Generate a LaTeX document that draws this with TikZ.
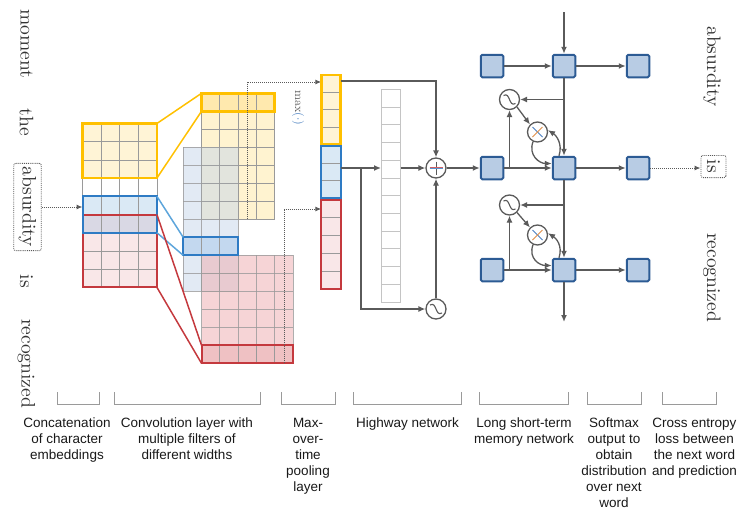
\documentclass[tikz,border=0pt]{standalone}
\usepackage{fontspec}
\newfontfamily\labelfont{Liberation Sans}
\newfontfamily\wordfont{lmroman10-regular.otf}
\usetikzlibrary{arrows.meta}
\definecolor{gold}{HTML}{FFC000}
\definecolor{yfill}{HTML}{FFF4D6}
\definecolor{ymapf}{HTML}{FFF3D0}
\definecolor{yhl}{HTML}{FFE6A0}
\definecolor{bdark}{HTML}{2E7BC4}
\definecolor{bline}{HTML}{5DA5DB}
\definecolor{bfill}{HTML}{DAE9F5}
\definecolor{bmapf}{HTML}{C6D6EA}
\definecolor{bhl}{HTML}{BBD4EE}
\definecolor{rdark}{HTML}{C4393E}
\definecolor{rfill}{HTML}{F9E7E8}
\definecolor{rmapf}{HTML}{EDAAAD}
\definecolor{rhl}{HTML}{EBB5B7}
\definecolor{ovl}{HTML}{D9D8E4}
\definecolor{gridg}{HTML}{9A9A9A}
\definecolor{agrey}{HTML}{5A5A5A}
\definecolor{lstmf}{HTML}{B8CCE4}
\definecolor{lstmb}{HTML}{2C5B94}
\definecolor{hwg}{HTML}{C4C4C4}
\definecolor{wordc}{HTML}{333333}
\definecolor{maxg}{HTML}{5E5E5E}
\definecolor{maxb}{HTML}{4A80C0}
\definecolor{crossb}{HTML}{4A7FC1}
\definecolor{crosso}{HTML}{E0904A}
\begin{document}
\begin{tikzpicture}[x=1pt,y=-1pt,
  arr/.style={draw=agrey, line width=1.3pt, -{Latex[length=7pt,width=6pt]}},
  ln/.style={draw=agrey, line width=1.3pt},
  dotarr/.style={draw=agrey, densely dotted, line width=1pt, -{Latex[length=6pt,width=5pt]}},
  gridl/.style={draw=gridg, line width=0.8pt},
  lstm/.style={draw=lstmb, fill=lstmf, line width=2pt, minimum size=22.5pt, inner sep=0pt, rounded corners=1.5pt},
  opc/.style={circle, draw=agrey, line width=1.3pt, fill=white, minimum size=20pt, inner sep=0pt},
  word/.style={rotate=-90, font=\wordfont\fontsize{19.5}{24}\selectfont, text=wordc, inner sep=0pt},
  wbox/.style={draw=agrey, densely dotted, line width=0.9pt, rounded corners=2pt},
  lab/.style={font=\labelfont\fontsize{13.5}{16}\selectfont, align=center, anchor=north, inner sep=0pt, text=black!90},
  brk/.style={draw=gridg, line width=0.9pt},
  sig/.style={draw=agrey, line width=1.1pt},
]
\useasboundingbox (0,0) rectangle (740,512);

% ---------------- words (left) ----------------
\node[word] (wmoment) at (26.5,43.5) {moment};
\node[word] (wthe) at (26.5,122.5) {the};
\node[word, wbox, inner xsep=3.5pt, inner ysep=5pt] (wabs) at (27.5,207) {absurdity};
\node[word] (wis) at (26.5,281.5) {is};
\node[word] (wrec) at (26.5,363.5) {recognized};

% ---------------- embedding matrix ----------------
\coordinate (embL) at (82.5,0);
\fill[yfill] (82.5,123.5) rectangle (156.9,178.1);
\fill[bfill] (82.5,196.3) rectangle (156.9,214.5);
\fill[ovl] (82.5,214.5) rectangle (156.9,232.7);
\fill[rfill] (82.5,232.7) rectangle (156.9,287.3);
\foreach \j in {0,...,4} \draw[gridl] ({82.5+18.6*\j},123.5) -- ({82.5+18.6*\j},287.3);
\foreach \y in {141.7,159.9,232.7,250.9,269.1} \draw[gridl] (82.5,\y) -- (156.9,\y);
\draw[gold, line width=2.6pt] (82.5,123.5) rectangle (156.9,178.1);
\draw[rdark, line width=2pt] (82.5,214.5) rectangle (156.9,287.3);
\draw[bdark, line width=2pt] (82.5,196.3) rectangle (156.9,232.7);

\draw[dotarr] (wabs.north) -- (wabs.north -| embL);

% ---------------- convolution feature maps ----------------
% yellow map
\fill[ymapf] (201.5,93.3) rectangle (274.7,219.3);
\foreach \j in {0,...,4} \draw[gridl] ({201.5+18.3*\j},93.3) -- ({201.5+18.3*\j},219.3);
\foreach \k in {0,...,7} \draw[gridl] (201.5,{93.3+18*\k}) -- (274.7,{93.3+18*\k});
% blue map
\fill[bmapf, fill opacity=0.5] (183.2,147.3) rectangle (238.1,291.3);
\foreach \j in {0,...,3} \draw[gridl, draw opacity=0.8] ({183.2+18.3*\j},147.3) -- ({183.2+18.3*\j},291.3);
\foreach \k in {0,...,8} \draw[gridl, draw opacity=0.8] (183.2,{147.3+18*\k}) -- (238.1,{147.3+18*\k});
% red map
\fill[rmapf, fill opacity=0.5] (201.5,255.3) rectangle (293,363.3);
\foreach \j in {0,...,5} \draw[gridl, draw opacity=0.8] ({201.5+18.3*\j},255.3) -- ({201.5+18.3*\j},363.3);
\foreach \k in {0,...,6} \draw[gridl, draw opacity=0.8] (201.5,{255.3+18*\k}) -- (293,{255.3+18*\k});
% highlighted rows
\fill[yhl, fill opacity=0.7] (201.5,93.3) rectangle (274.7,111.3);
\fill[bhl, fill opacity=0.8] (183.2,237.3) rectangle (238.1,255.3);
\fill[rhl, fill opacity=0.6] (201.5,345.3) rectangle (293,363.3);
\foreach \j in {1,...,3} \draw[gridl] ({201.5+18.3*\j},93.3) -- ({201.5+18.3*\j},111.3);
\foreach \j in {1,2} \draw[gridl] ({183.2+18.3*\j},237.3) -- ({183.2+18.3*\j},255.3);
\foreach \j in {1,...,4} \draw[gridl] ({201.5+18.3*\j},345.3) -- ({201.5+18.3*\j},363.3);
\draw[gold, line width=2.6pt] (201.5,93.3) rectangle (274.7,111.3);
\draw[bdark, line width=2pt] (183.2,237.3) rectangle (238.1,255.3);
\draw[rdark, line width=2pt] (201.5,345.3) rectangle (293,363.3);

% filter connectors
\coordinate (eyt) at (156.9,123.5); \coordinate (eyb) at (156.9,178.1);
\coordinate (ebt) at (156.9,196.3); \coordinate (ebb) at (156.9,232.7);
\coordinate (ert) at (156.9,214.5); \coordinate (erb) at (156.9,287.3);
\coordinate (cyt) at (201.5,93.3);  \coordinate (cyb) at (201.5,111.3);
\coordinate (cbt) at (183.2,237.3); \coordinate (cbb) at (183.2,255.3);
\coordinate (crt) at (201.5,345.3); \coordinate (crb) at (201.5,363.3);
\draw[gold, line width=1.5pt] (eyt) -- (cyt) (eyb) -- (cyb);
\draw[bline, line width=1.5pt] (ebt) -- (cbt) (ebb) -- (cbb);
\draw[rdark, line width=1.5pt] (ert) -- (crt) (erb) -- (crb);

% ---------------- max-over-time pooling ----------------
\coordinate (py0) at (247.5,219.3);
\coordinate (py1) at (321.3,82);
\coordinate (pr0) at (284,363.3);
\coordinate (pr1) at (321.3,209);
\draw[dotarr] (py0) |- (py1);
\draw[dotarr] (pr0) |- (pr1);
\node[rotate=-90, inner sep=0pt, font=\wordfont\fontsize{12}{14}\selectfont] (maxlab) at (298,108) {\textcolor{maxg}{max}\textcolor{maxb}{(${\cdot}$)}};

\fill[yfill] (321.3,75) rectangle (340.7,144.2);
\fill[bfill] (321.3,145.5) rectangle (340.7,198);
\fill[rfill] (321.3,199.8) rectangle (340.7,288.8);
\foreach \k in {1,2,3} \draw[gridl] (321.3,{75+17.3*\k}) -- (340.7,{75+17.3*\k});
\foreach \k in {1,2} \draw[gridl] (321.3,{145.5+17.5*\k}) -- (340.7,{145.5+17.5*\k});
\foreach \k in {1,...,4} \draw[gridl] (321.3,{199.8+17.8*\k}) -- (340.7,{199.8+17.8*\k});
\draw[gold, line width=2.6pt] (321.3,75) rectangle (340.7,144.2);
\draw[bdark, line width=2pt] (321.3,145.5) rectangle (340.7,198);
\draw[rdark, line width=2pt] (321.3,199.8) rectangle (340.7,288.8);

% ---------------- highway network ----------------
\foreach \k in {1,...,11} \draw[draw=hwg, line width=0.8pt] (381,{89.3+17.73*\k}) -- (400,{89.3+17.73*\k});
\node[draw=hwg, line width=1pt, minimum width=19pt, minimum height=212.7pt, inner sep=0pt] (hw) at (390.5,195.65) {};

\node[opc] (plus) at (436,168) {};
\node[opc] (hs) at (436,309) {};
\draw[agrey, line width=0.9pt, shift={(plus.center)}] (0,-6.5) -- (0,6.5);
\draw[rdark!80, line width=0.7pt, shift={(plus.center)}] (-6.5,-0.4) -- (6.5,-0.4);
\draw[bdark!80, line width=0.7pt, shift={(plus.center)}] (-6.5,0.5) -- (6.5,0.5);

\coordinate (mptop) at (340.7,81);
\coordinate (mpout) at (340.7,168);
\coordinate (hwin) at (381,168);
\coordinate (hwout) at (400.5,168);
\coordinate (br) at (361,168);
\draw[arr] (mptop) -| (plus.north);
\draw[arr] (mpout) -- (hwin);
\draw[arr] (br) |- (hs.west);
\draw[arr] (hs.north) -- (plus.south);
\draw[arr] (hwout) -- (plus.west);

% ---------------- LSTM ----------------
\node[lstm] (a1) at (492,66) {};
\node[lstm] (b1) at (564,66) {};
\node[lstm] (c1) at (638,66) {};
\node[lstm] (a2) at (492,168) {};
\node[lstm] (b2) at (564,168) {};
\node[lstm] (c2) at (638,168) {};
\node[lstm] (a3) at (492,270) {};
\node[lstm] (b3) at (564,270) {};
\node[lstm] (c3) at (638,270) {};

\node[opc] (s1) at (509.5,99.5) {};
\node[opc] (x1) at (537.5,132) {};
\node[opc] (s2) at (509.5,205) {};
\node[opc] (x2) at (537.5,235) {};

\foreach \n in {hs,s1,s2}
  \draw[sig, shift={(\n.center)}] (-6,-4) .. controls (1,-8) and (-1,8) .. (6,4);
\foreach \n in {x1,x2} {
  \draw[crossb, line width=0.9pt, shift={(\n.center)}] (-5,-5) -- (5,5);
  \draw[crosso, line width=0.9pt, shift={(\n.center)}] (-5,5) -- (5,-5);
}

\draw[arr] (plus.east) -- (a2.west);
\foreach \r in {1,2,3} {
  \draw[arr] (a\r.east) -- (b\r.west);
  \draw[arr] (b\r.east) -- (c\r.west);
}
\coordinate (top) at (564,12);
\coordinate (bot) at (564,322);
\draw[arr] (top) -- (b1.north);
\draw[arr] (b1.south) -- (b2.north);
\draw[arr] (b2.south) -- (b3.north);
\draw[arr] (b3.south) -- (bot);

\coordinate (t1) at (564,99.5);
\coordinate (t2) at (564,205);
\coordinate (r1) at (509.5,168);
\coordinate (r2) at (509.5,270);
\draw[arr] (t1) -- (s1.east);
\draw[arr] (t2) -- (s2.east);
\draw[arr] (r1) -- (s1.south);
\draw[arr] (r2) -- (s2.south);
\draw[arr] (s1.-45) -- (x1.135);
\draw[arr] (s2.-45) -- (x2.135);
\draw[arr] (x1.245) .. controls +(-5,14) and +(-12,0) .. ([yshift=4.5pt]b2.west);
\draw[arr] (x2.245) .. controls +(-5,14) and +(-12,0) .. ([yshift=4.5pt]b3.west);
\draw[arr] ([xshift=-5pt]b2.north) .. controls +(4,-12) and +(8,5) .. (x1.10);
\draw[arr] ([xshift=-5pt]b3.north) .. controls +(4,-12) and +(8,5) .. (x2.10);

% ---------------- words (right) ----------------
\node[word] (rabs) at (712,66.5) {absurdity};
\node[word, wbox, inner xsep=4.5pt, inner ysep=6pt] (ris) at (713.5,166.5) {is};
\node[word] (rrec) at (712,277.5) {recognized};
\draw[dotarr] (c2.east) -- (c2.east -| ris.south);

% ---------------- brackets and labels ----------------
\foreach \a/\b in {57/99, 114/260, 281/335, 353/461, 479/568, 587/641, 662/716}
  \draw[brk] (\a,392) -- (\a,404) -- (\b,404) -- (\b,392);

\node[lab] (l1) at (67,418) {Concatenation\\of character\\embeddings};
\node[lab] (l2) at (187,418) {Convolution layer with\\multiple filters of\\different widths};
\node[lab] (l3) at (308,418) {Max-\\over-\\time\\pooling\\layer};
\node[lab] (l4) at (407.5,418) {Highway network};
\node[lab] (l5) at (524,418) {Long short-term\\memory network};
\node[lab] (l6) at (614,418) {Softmax\\output to\\obtain\\distribution\\over next\\word};
\node[lab] (l7) at (694.5,418) {Cross entropy\\loss between\\the next word\\and prediction};
\end{tikzpicture}
\end{document}
